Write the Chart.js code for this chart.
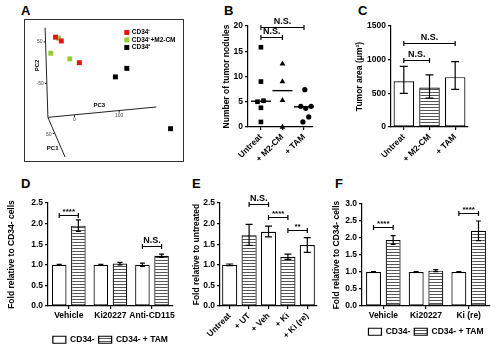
<!DOCTYPE html>
<html><head><meta charset="utf-8">
<script src="https://cdn.jsdelivr.net/npm/chart.js@4"></script>
<style>
html,body{margin:0;padding:0;width:500px;height:346px;overflow:hidden;background:#fff;}
canvas{position:absolute;}
.lbl{position:absolute;font:bold 13px "Liberation Sans",Arial,sans-serif;color:#000;line-height:13px;}
</style></head><body>
<div class="lbl" style="left:21px;top:4px">A</div>
<div class="lbl" style="left:224px;top:4px">B</div>
<div class="lbl" style="left:358px;top:4px">C</div>
<div class="lbl" style="left:21px;top:177px">D</div>
<div class="lbl" style="left:192px;top:177px">E</div>
<div class="lbl" style="left:335px;top:177px">F</div>
<canvas id="cA" width="160" height="143" style="left:24px;top:19px"></canvas>
<canvas id="cB" width="102" height="157" style="left:222px;top:10px"></canvas>
<canvas id="cC" width="115" height="157" style="left:355px;top:10px"></canvas>
<canvas id="cD" width="170" height="161" style="left:7px;top:193px"></canvas>
<canvas id="cE" width="127" height="153" style="left:192px;top:193px"></canvas>
<canvas id="cF" width="160" height="152" style="left:332px;top:194px"></canvas>
<script>
// ---------- DATA ----------
// Panel A: PCA scores projected on the page plane (arbitrary units 0-100)
const aGroups = ['CD34\u207B', 'CD34\u207B+M2-CM', 'CD34\u207A'];
const aRedX = [18.1, 21.9, 33.8];
const aRedY = [89.5, 86.7, 70.6];
const aGreenX = [20.0, 15.0, 27.5];
const aGreenY = [88.8, 77.6, 73.4];
const aBlackX = [57.5, 65.0, 93.8];
const aBlackY = [60.1, 66.4, 21.7];

// Panel B: number of tumor nodules
const bCats = ['Untreat', '+ M2-CM', '+ TAM'];
const bUntreat = [15.8, 9.0, 5.2, 5.0, 3.8, 1.0];
const bUntreatJit = [0, 0, 0.12, -0.16, 0, 0];
const bM2 = [12.5, 9.0, 5.3, 0.0];
const bM2Jit = [0, 0, 0, 0];
const bTAM = [7.4, 4.1, 3.7, 4.1, 2.0, 1.0];
const bTAMJit = [0.04, -0.15, 0.08, 0.33, 0.22, -0.05];
const bMedian = [5.1, 7.2, 4.0];

// Panel C: tumor area
const cCats = ['Untreat', '+ M2-CM', '+ TAM'];
const cVals = [680, 585, 740];
const cLow = [500, 430, 560];
const cHigh = [900, 775, 970];

// Panel D
const dCats = ['Vehicle', 'Ki20227', 'Anti-CD115'];
const dCD34 = [1.0, 1.0, 1.0];
const dCD34Low = [0.99, 0.99, 0.96];
const dCD34High = [1.01, 1.01, 1.04];
const dTAM = [1.95, 1.03, 1.22];
const dTAMLow = [1.81, 1.0, 1.18];
const dTAMHigh = [2.09, 1.06, 1.26];

// Panel E
const eCats = ['Untreat', '+ UT', '+ Veh', '+ Ki', '+ Ki (re)'];
const eVals = [1.0, 1.72, 1.80, 1.19, 1.48];
const eLow = [0.98, 1.47, 1.68, 1.13, 1.30];
const eHigh = [1.02, 1.98, 1.94, 1.26, 1.66];

// Panel F
const fCats = ['Vehicle', 'Ki20227', 'Ki (re)'];
const fCD34 = [1.0, 1.0, 1.0];
const fCD34Low = [0.99, 0.99, 0.99];
const fCD34High = [1.01, 1.01, 1.01];
const fTAM = [1.94, 1.04, 2.21];
const fTAMLow = [1.81, 1.01, 1.92];
const fTAMHigh = [2.07, 1.07, 2.50];

const seriesNames = ['CD34-', 'CD34- + TAM'];

// ---------- STYLE ----------
const FONT = '"Liberation Sans", Arial, sans-serif';
Chart.defaults.font.family = FONT;
Chart.defaults.color = '#000';
Chart.defaults.animation = false;
Chart.defaults.plugins.tooltip.enabled = false;
const bold = (s) => ({family: FONT, size: s, weight: 'bold'});

function makeStripe() {
  const c = document.createElement('canvas'); c.width = 4; c.height = 3;
  const x = c.getContext('2d');
  x.fillStyle = '#fff'; x.fillRect(0, 0, 4, 3);
  x.fillStyle = '#555'; x.fillRect(0, 1, 4, 1);
  return x.createPattern(c, 'repeat');
}
const stripe = makeStripe();

const errorBars = {
  id: 'errorBars',
  afterDatasetsDraw(chart, args, opts) {
    const ctx = chart.ctx, ys = chart.scales.y, cap = opts.cap || 3;
    chart.data.datasets.forEach((ds, di) => {
      if (!ds.errLow) return;
      chart.getDatasetMeta(di).data.forEach((el, i) => {
        const x = el.x, y1 = ys.getPixelForValue(ds.errLow[i]), y2 = ys.getPixelForValue(ds.errHigh[i]);
        ctx.save(); ctx.strokeStyle = '#000'; ctx.lineWidth = 1.2;
        ctx.beginPath();
        ctx.moveTo(x, y1); ctx.lineTo(x, y2);
        ctx.moveTo(x - cap, y1); ctx.lineTo(x + cap, y1);
        ctx.moveTo(x - cap, y2); ctx.lineTo(x + cap, y2);
        ctx.stroke(); ctx.restore();
      });
    });
  }
};

const brackets = {
  id: 'brackets',
  afterDraw(chart, args, opts) {
    if (!opts.items) return;
    const ctx = chart.ctx, ys = chart.scales.y;
    const px = (a) => Array.isArray(a) ? chart.getDatasetMeta(a[0]).data[a[1]].x : chart.scales.x.getPixelForValue(a);
    opts.items.forEach(b => {
      const x1 = px(b.a), x2 = px(b.b), y = Math.round(ys.getPixelForValue(b.y)) + 0.5;
      ctx.save(); ctx.strokeStyle = '#000'; ctx.lineWidth = 1.2;
      ctx.beginPath();
      ctx.moveTo(x1, y - 2.5); ctx.lineTo(x1, y + 2.5);
      ctx.moveTo(x2, y - 2.5); ctx.lineTo(x2, y + 2.5);
      ctx.moveTo(x1, y); ctx.lineTo(x2, y);
      ctx.stroke();
      ctx.fillStyle = '#000';
      ctx.font = (b.label.startsWith('*') ? 'bold 8px ' : 'bold 9px ') + FONT;
      ctx.textAlign = 'center'; ctx.textBaseline = 'bottom';
      ctx.fillText(b.label, (x1 + x2) / 2, y - (b.label.startsWith('*') ? 0 : 1));
      ctx.restore();
    });
  }
};

function yAxis(min, max, step, title, width, dec) {
  return {
    type: 'linear', min, max,
    ticks: {stepSize: step, font: bold(8.5), color: '#000', padding: 2,
            callback: v => dec ? v.toFixed(1) : String(v)},
    grid: {drawOnChartArea: false, tickLength: 3, color: '#000', lineWidth: 1.2},
    border: {color: '#000', width: 1.2},
    title: {display: true, text: title, font: bold(8.5), color: '#000', padding: 0},
    afterFit: s => { s.width = width; }
  };
}
function xCat(height, rot) {
  return {
    type: 'category', offset: true,
    grid: {offset: false, drawOnChartArea: false, tickLength: 3, color: '#000', lineWidth: 1.2},
    border: {color: '#000', width: 1.2},
    ticks: {font: bold(8.5), color: '#000', padding: 2, autoSkip: false, minRotation: rot, maxRotation: rot},
    afterFit: s => { s.height = height; }
  };
}

// ---------- PANEL A ----------
const pcaDecor = {
  id: 'pcaDecor',
  beforeDatasetsDraw(chart) {
    const ctx = chart.ctx, xs = chart.scales.x, ys = chart.scales.y;
    const P = (x, y) => [xs.getPixelForValue(x), ys.getPixelForValue(y)];
    const {width, height} = chart;
    ctx.save();
    ctx.strokeStyle = '#333'; ctx.lineWidth = 1;
    ctx.strokeRect(0.5, 0.5, width - 1, height - 1);
    // 3-D axes
    const O = P(13.1, 30.1), T2 = P(11.25, 96.5), T3 = P(84.4, 37.8), T1 = P(24.4, 0.7);
    ctx.strokeStyle = '#222'; ctx.lineWidth = 1;
    ctx.beginPath();
    ctx.moveTo(...T2); ctx.lineTo(...O); ctx.lineTo(...T3);
    ctx.moveTo(...O); ctx.lineTo(...T1);
    // ticks
    [[11.6, 86.0], [12.4, 55.2]].forEach(t => { const p = P(...t); ctx.moveTo(p[0], p[1]); ctx.lineTo(p[0] - 2, p[1]); });
    [[30.6, 31.9], [60.0, 35.1]].forEach(t => { const p = P(...t); ctx.moveTo(p[0], p[1]); ctx.lineTo(p[0], p[1] + 2); });
    { const p = P(17.5, 18.2); ctx.moveTo(p[0], p[1]); ctx.lineTo(p[0] - 2, p[1]); }
    ctx.stroke();
    // tick labels
    ctx.fillStyle = '#444'; ctx.font = '5px ' + FONT; ctx.textBaseline = 'middle';
    ctx.textAlign = 'right';
    let p = P(11.6, 86.0); ctx.fillText('50', p[0] - 3, p[1]);
    p = P(12.4, 55.2); ctx.fillText('-50', p[0] - 3, p[1]);
    p = P(17.5, 18.2); ctx.fillText('50', p[0] - 3, p[1] + 1);
    ctx.textAlign = 'center';
    p = P(30.6, 31.9); ctx.fillText('0', p[0], p[1] + 5);
    p = P(60.0, 35.1); ctx.fillText('100', p[0], p[1] + 5);
    // axis names
    ctx.fillStyle = '#000'; ctx.font = 'bold 6px ' + FONT;
    p = P(46.9, 39.2); ctx.fillText('PC3', p[0], p[1]);
    p = P(16.25, 7); ctx.fillText('PC1', p[0], p[1]);
    p = P(6.25, 68.5);
    ctx.save(); ctx.translate(p[0], p[1]); ctx.rotate(-Math.PI / 2); ctx.fillText('PC2', 0, 0); ctx.restore();
    ctx.restore();
  },
  afterDatasetsDraw(chart) {
    const ctx = chart.ctx;
    ctx.save();
    ctx.font = 'bold 6.5px ' + FONT; ctx.textAlign = 'left'; ctx.textBaseline = 'middle';
    chart.data.datasets.forEach((ds, i) => {
      const x = chart.scales.x.getPixelForValue(65), y = chart.scales.y.getPixelForValue(93) + i * 7.5;
      ctx.fillStyle = ds.backgroundColor;
      ctx.fillRect(x - 2.5, y - 2.5, 5, 5);
      ctx.fillStyle = '#000';
      ctx.fillText(ds.label, x + 5, y);
    });
    ctx.restore();
  }
};
const toPts = (xs, ys) => xs.map((x, i) => ({x, y: ys[i]}));
new Chart(document.getElementById('cA'), {
  type: 'scatter',
  data: {datasets: [
    {label: aGroups[0], data: toPts(aRedX, aRedY), backgroundColor: '#ee1111', borderColor: '#ee1111'},
    {label: aGroups[1], data: toPts(aGreenX, aGreenY), backgroundColor: '#99cc33', borderColor: '#99cc33'},
    {label: aGroups[2], data: toPts(aBlackX, aBlackY), backgroundColor: '#000', borderColor: '#000'}
  ]},
  options: {
    responsive: false, devicePixelRatio: 1,
    layout: {padding: 0},
    elements: {point: {pointStyle: 'rect', radius: 3.5, borderWidth: 0}},
    scales: {x: {type: 'linear', min: 0, max: 100, display: false}, y: {type: 'linear', min: 0, max: 100, display: false}},
    plugins: {legend: {display: false}}
  },
  plugins: [pcaDecor]
});

// ---------- PANEL B ----------
const jit = (vals, jits, c) => vals.map((v, i) => ({x: c + jits[i], y: v}));
new Chart(document.getElementById('cB'), {
  type: 'scatter',
  data: {datasets: [
    {data: jit(bUntreat, bUntreatJit, 0), pointStyle: 'rect', pointRadius: 3.3, backgroundColor: '#000', borderColor: '#000', borderWidth: 0, clip: false},
    {data: jit(bM2, bM2Jit, 1), pointStyle: 'triangle', pointRadius: 3.3, backgroundColor: '#000', borderColor: '#000', borderWidth: 0, clip: false},
    {data: jit(bTAM, bTAMJit, 2), pointStyle: 'circle', pointRadius: 2.6, backgroundColor: '#000', borderColor: '#000', borderWidth: 0, clip: false},
    {data: bMedian.map((v, i) => ({x: i, y: v})), pointStyle: 'line', pointRadius: 10, borderColor: '#000', borderWidth: 1.4, clip: false}
  ]},
  options: {
    responsive: false, devicePixelRatio: 1,
    layout: {padding: {top: 16, right: 2, left: 0, bottom: 0}},
    scales: {
      x: {type: 'linear', min: -0.6, max: 2.4,
          afterBuildTicks: s => { s.ticks = bCats.map((_, i) => ({value: i})); },
          ticks: {callback: v => bCats[v], font: bold(8.5), color: '#000', padding: 2, autoSkip: false, minRotation: 45, maxRotation: 45},
          grid: {drawOnChartArea: false, tickLength: 3, color: '#000', lineWidth: 1.2},
          border: {color: '#000', width: 1.2},
          afterFit: s => { s.height = 40; }},
      y: yAxis(0, 20, 5, 'Number of tumor nodules', 26, false)
    },
    plugins: {legend: {display: false},
      brackets: {items: [{a: 0, b: 2, y: 19.85, label: 'N.S.'}, {a: 0, b: 1, y: 17.9, label: 'N.S.'}]}}
  },
  plugins: [brackets]
});

// ---------- PANEL C ----------
new Chart(document.getElementById('cC'), {
  type: 'bar',
  data: {labels: cCats, datasets: [
    {data: cVals, errLow: cLow, errHigh: cHigh, backgroundColor: ['#fff', stripe, '#fff'], borderColor: '#000', borderWidth: 1.2, borderSkipped: false, barPercentage: 0.8, categoryPercentage: 1}
  ]},
  options: {
    responsive: false, devicePixelRatio: 1,
    layout: {padding: {top: 16, right: 2, left: 0, bottom: 0}},
    scales: {x: xCat(40, 45), y: yAxis(0, 1500, 500, 'Tumor area (\u03BCm\u00B2)', 36, false)},
    plugins: {legend: {display: false}, errorBars: {cap: 4},
      brackets: {items: [{a: 0, b: 2, y: 1245, label: 'N.S.'}, {a: 0, b: 1, y: 1000, label: 'N.S.'}]}}
  },
  plugins: [errorBars, brackets]
});

// ---------- PANEL D / F (grouped) ----------
function grouped(id, cats, a, aL, aH, b, bL, bH, ymax, legPad, xh, br) {
  return new Chart(document.getElementById(id), {
    type: 'bar',
    data: {labels: cats, datasets: [
      {label: seriesNames[0], data: a, errLow: aL, errHigh: aH, backgroundColor: '#fff', borderColor: '#000', borderWidth: 1.2, borderSkipped: false, categoryPercentage: 0.92, barPercentage: 0.76},
      {label: seriesNames[1], data: b, errLow: bL, errHigh: bH, backgroundColor: stripe, borderColor: '#000', borderWidth: 1.2, borderSkipped: false, categoryPercentage: 0.92, barPercentage: 0.76}
    ]},
    options: {
      responsive: false, devicePixelRatio: 1,
      layout: {padding: {top: 10, right: 2, left: 0, bottom: 0}},
      scales: {x: xCat(xh, 0), y: yAxis(0, ymax, 0.5, 'Fold relative to CD34- cells', id === 'cD' ? 41 : 30, true)},
      plugins: {
        legend: {display: true, position: 'bottom', fullSize: false,
          labels: {boxWidth: 13, boxHeight: 7, padding: legPad, font: bold(8.5), color: '#000'}},
        errorBars: {cap: 2.5},
        brackets: {items: br}
      }
    },
    plugins: [errorBars, brackets]
  });
}
grouped('cD', dCats, dCD34, dCD34Low, dCD34High, dTAM, dTAMLow, dTAMHigh, 2.5, 4, 25.5,
  [{a: [0, 0], b: [1, 0], y: 2.22, label: '****'}, {a: [0, 2], b: [1, 2], y: 1.46, label: 'N.S.'}]);
grouped('cF', fCats, fCD34, fCD34Low, fCD34High, fTAM, fTAMLow, fTAMHigh, 3.0, 4, 17.5,
  [{a: [0, 0], b: [1, 0], y: 2.33, label: '****'}, {a: [0, 2], b: [1, 2], y: 2.74, label: '****'}]);

// ---------- PANEL E ----------
new Chart(document.getElementById('cE'), {
  type: 'bar',
  data: {labels: eCats, datasets: [
    {data: eVals, errLow: eLow, errHigh: eHigh, backgroundColor: ['#fff', stripe, '#fff', stripe, '#fff'], borderColor: '#000', borderWidth: 1.2, borderSkipped: false, barPercentage: 0.78, categoryPercentage: 1}
  ]},
  options: {
    responsive: false, devicePixelRatio: 1,
    layout: {padding: {top: 10, right: 2, left: 0, bottom: 0}},
    scales: {x: xCat(40, 45), y: yAxis(0, 2.5, 0.5, 'Fold relative to untreated', 28, true)},
    plugins: {legend: {display: false}, errorBars: {cap: 3.5},
      brackets: {items: [{a: 1, b: 2, y: 2.47, label: 'N.S.'}, {a: 2, b: 3, y: 2.17, label: '****'}, {a: 3, b: 4, y: 1.85, label: '**'}]}}
  },
  plugins: [errorBars, brackets]
});
</script>
</body></html>
